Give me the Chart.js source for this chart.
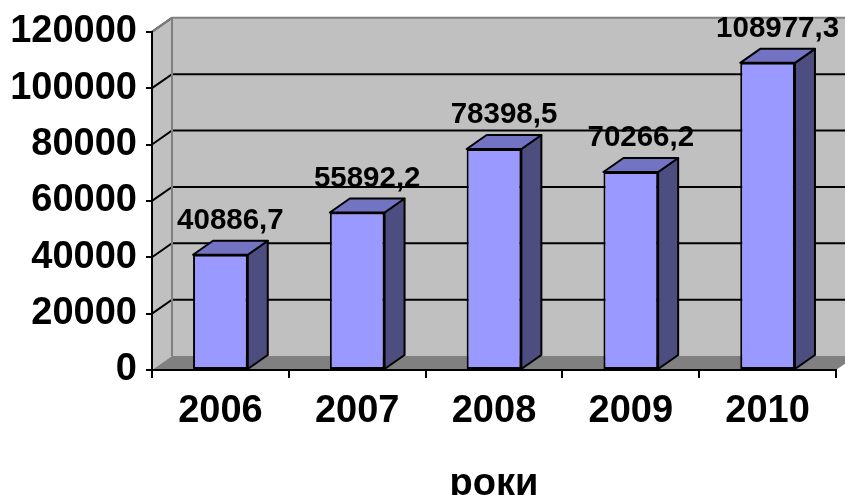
<!DOCTYPE html>
<html>
<head>
<meta charset="utf-8">
<script src="https://cdn.jsdelivr.net/npm/chart.js@4.4.1/dist/chart.umd.min.js"></script>
<title>роки</title>
<style>
  body { margin: 0; background: #fff; }
  #wrap { width: 845px; height: 495px; position: relative; }
</style>
</head>
<body>
<div id="wrap"><canvas id="chart"></canvas></div>
<script>
var years = ["2006", "2007", "2008", "2009", "2010"];
var values = [40886.7, 55892.2, 78398.5, 70266.2, 108977.3];
var valueLabels = ["40886,7", "55892,2", "78398,5", "70266,2", "108977,3"];
var axisTitle = "роки";

// depth of the fake 3d effect
var DX = 20, DY = 14;

var walls = {
    id: "walls",
    beforeDraw: function(chart) {
        var c = chart.ctx, a = chart.chartArea, y = chart.scales.y;
        c.save();
        // back wall + side wall
        c.fillStyle = "#c0c0c0";
        c.fillRect(a.left + DX, a.top - DY, a.right - a.left + 40, a.bottom - a.top);
        c.beginPath();
        c.moveTo(a.left, a.top);
        c.lineTo(a.left + DX, a.top - DY);
        c.lineTo(a.left + DX, a.bottom - DY);
        c.lineTo(a.left, a.bottom);
        c.closePath();
        c.fill();
        // floor
        c.fillStyle = "#808080";
        c.beginPath();
        c.moveTo(a.left, a.bottom);
        c.lineTo(a.left + DX, a.bottom - DY);
        c.lineTo(a.right + DX, a.bottom - DY);
        c.lineTo(a.right, a.bottom);
        c.closePath();
        c.fill();
        // gridlines
        c.strokeStyle = "#000";
        c.lineWidth = 2;
        y.ticks.forEach(function(t) {
            if (t.value === 0) return;
            var py = y.getPixelForValue(t.value);
            c.beginPath();
            c.moveTo(a.left, py);
            c.lineTo(a.left + DX, py - DY);
            if (t.value !== y.max) c.lineTo(a.right + DX + 20, py - DY);
            c.stroke();
        });
        // grey wall edges
        c.strokeStyle = "#808080";
        c.beginPath();
        c.moveTo(a.left, a.top);
        c.lineTo(a.left + DX, a.top - DY);
        c.lineTo(a.right + DX + 20, a.top - DY);
        c.moveTo(a.left + DX, a.top - DY);
        c.lineTo(a.left + DX, a.bottom - DY);
        c.stroke();
        c.restore();
    },
    afterDatasetsDraw: function(chart) {
        var c = chart.ctx;
        var bars = chart.getDatasetMeta(0).data;
        c.save();
        c.strokeStyle = "#000";
        c.lineWidth = 2;
        c.lineJoin = "round";
        bars.forEach(function(b, i) {
            var l = b.x - b.width / 2, r = b.x + b.width / 2;
            // side
            c.fillStyle = "#4d4d80";
            c.beginPath();
            c.moveTo(r, b.y);
            c.lineTo(r + DX, b.y - DY);
            c.lineTo(r + DX, b.base - DY);
            c.lineTo(r, b.base);
            c.closePath();
            c.fill();
            c.stroke();
            // top
            c.fillStyle = "#7373c4";
            c.beginPath();
            c.moveTo(l, b.y);
            c.lineTo(l + DX, b.y - DY);
            c.lineTo(r + DX, b.y - DY);
            c.lineTo(r, b.y);
            c.closePath();
            c.fill();
            c.stroke();
            // value label
            c.fillStyle = "#000";
            c.font = "bold 29.5px 'Liberation Sans', Arial, sans-serif";
            c.textAlign = "center";
            c.textBaseline = "middle";
            var tx = Math.min(b.x + DX / 2, chart.width - 4 - c.measureText(valueLabels[i]).width / 2);
            c.fillText(valueLabels[i], tx, b.y - DY - 20);
        });
        c.restore();
    }
};

var font = { family: "'Liberation Sans', Arial, sans-serif", size: 38, weight: "bold" };

new Chart(document.getElementById("chart"), {
    type: "bar",
    data: {
        labels: years,
        datasets: [{
            data: values,
            backgroundColor: "#9999ff",
            borderColor: "#000",
            borderWidth: 2,
            borderSkipped: false,
            categoryPercentage: 1,
            barPercentage: 0.4
        }]
    },
    options: {
        responsive: true,
        maintainAspectRatio: false,
        animation: false,
        layout: { padding: { top: 28, right: 9, left: 0, bottom: 0 } },
        plugins: { legend: { display: false }, tooltip: { enabled: false } },
        scales: {
            x: {
                grid: { drawOnChartArea: false, color: "#000", lineWidth: 2, tickLength: 8 },
                border: { color: "#000", width: 2 },
                ticks: { color: "#000", font: font, padding: 11 },
                title: { display: true, text: axisTitle, color: "#000", font: Object.assign({ lineHeight: 1 }, font), padding: { top: 0, bottom: -9 } },
                afterFit: function(s) { s.height = 125; }
            },
            y: {
                min: 0,
                max: 120000,
                grid: { drawOnChartArea: false, color: "#000", lineWidth: 2, tickLength: 6 },
                border: { color: "#000", width: 2 },
                ticks: { stepSize: 20000, color: "#000", font: font, padding: 9, callback: function(v) { return String(v); } },
                afterFit: function(s) { s.width = 152; }
            }
        }
    },
    plugins: [walls]
});
</script>
</body>
</html>
